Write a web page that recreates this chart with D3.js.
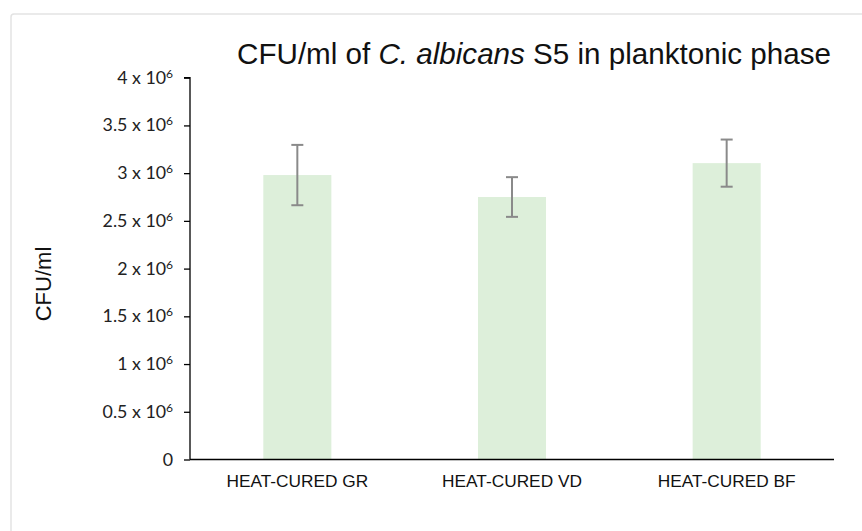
<!DOCTYPE html>
<meta charset="utf-8">
<style>
body { margin: 0; background: #fff; }
.tick-label { font: 17.8px Lato, "Open Sans", sans-serif; fill: #222; }
.cat-label { font: 17.3px "Liberation Sans", Arial, sans-serif; fill: #111; }
.title { font: 29.6px "Liberation Sans", Arial, sans-serif; fill: #111; }
.ylab { font: 22px "Liberation Sans", Arial, sans-serif; fill: #111; }
</style>
<svg width="862" height="531"></svg>
<script src="https://cdn.jsdelivr.net/npm/d3@7"></script>
<script>

var categories = ["HEAT-CURED GR", "HEAT-CURED VD", "HEAT-CURED BF"];
var means = [2.98e6, 2.75e6, 3.105e6];
var errors = [0.316e6, 0.208e6, 0.247e6];
var yTicks = [0, 0.5e6, 1e6, 1.5e6, 2e6, 2.5e6, 3e6, 3.5e6, 4e6];
var yTickText = ["0", "0.5", "1", "1.5", "2", "2.5", "3", "3.5", "4"];

var svg = d3.select("svg");

// outer frame of the chart area
svg.append("rect")
    .attr("x", 11).attr("y", 14)
    .attr("width", 900).attr("height", 600)
    .attr("rx", 3)
    .attr("fill", "#fff")
    .attr("stroke", "#e3e3e3")
    .attr("stroke-width", 1.5);

var x0 = 190, x1 = 834, yBottom = 459.5, yTop = 77.7;

var x = d3.scaleBand()
    .domain(categories)
    .range([x0, x1])
    .paddingInner(0.683)
    .paddingOuter(0.3415);

var y = d3.scaleLinear()
    .domain([0, 4e6])
    .range([yBottom, yTop]);

var g = svg.append("g");

// bars
g.selectAll("rect.bar")
    .data(means)
    .enter().append("rect")
      .attr("class", "bar")
      .attr("x", function(d, i) { return x(categories[i]); })
      .attr("width", x.bandwidth())
      .attr("y", function(d) { return y(d); })
      .attr("height", function(d) { return y(0) - y(d); })
      .attr("fill", "#ddefda");

// error bars
var eb = g.selectAll("g.err")
    .data(means)
    .enter().append("g")
      .attr("class", "err")
      .attr("stroke", "#8a8a8a")
      .attr("stroke-width", 2);

eb.append("line")
    .attr("x1", function(d, i) { return x(categories[i]) + x.bandwidth() / 2; })
    .attr("x2", function(d, i) { return x(categories[i]) + x.bandwidth() / 2; })
    .attr("y1", function(d, i) { return y(d + errors[i]); })
    .attr("y2", function(d, i) { return y(d - errors[i]); });

[1, -1].forEach(function(s) {
  eb.append("line")
      .attr("x1", function(d, i) { return x(categories[i]) + x.bandwidth() / 2 - 6; })
      .attr("x2", function(d, i) { return x(categories[i]) + x.bandwidth() / 2 + 6; })
      .attr("y1", function(d, i) { return y(d + s * errors[i]); })
      .attr("y2", function(d, i) { return y(d + s * errors[i]); });
});

// y axis
var yAxis = d3.axisLeft(y)
    .tickValues(yTicks)
    .tickSize(6)
    .tickFormat("");

var ya = svg.append("g")
    .attr("transform", "translate(" + x0 + ",0)")
    .call(yAxis);
ya.select(".domain").attr("stroke", "#000").attr("stroke-width", 1.3)
    .attr("d", "M-6," + yTop + "H0V" + yBottom);
ya.selectAll(".tick line").attr("stroke", "#000").attr("stroke-width", 1.3);

var lab = svg.selectAll("text.tick-label")
    .data(yTicks)
    .enter().append("text")
      .attr("class", "tick-label")
      .attr("text-anchor", "end")
      .attr("x", x0 - 17)
      .attr("y", function(d) { return y(d) + 6; });

lab.each(function(d, i) {
  var t = d3.select(this);
  if (d === 0) { t.text("0"); return; }
  t.append("tspan").text(yTickText[i] + " x 10");
  t.append("tspan").attr("dy", -6).style("font-size", "12px").text("6");
});

// x axis
svg.append("line")
    .attr("x1", x0).attr("x2", x1)
    .attr("y1", yBottom).attr("y2", yBottom)
    .attr("stroke", "#000")
    .attr("stroke-width", 1.5);

svg.selectAll("text.cat-label")
    .data(categories)
    .enter().append("text")
      .attr("class", "cat-label")
      .attr("text-anchor", "middle")
      .attr("x", function(d) { return x(d) + x.bandwidth() / 2; })
      .attr("y", 487)
      .text(function(d) { return d; });

// title
var title = svg.append("text")
    .attr("class", "title")
    .attr("text-anchor", "middle")
    .attr("x", 534)
    .attr("y", 64);
title.append("tspan").text("CFU/ml of ");
title.append("tspan").style("font-style", "italic").text("C. albicans");
title.append("tspan").text(" S5 in planktonic phase");

// y label
svg.append("text")
    .attr("class", "ylab")
    .attr("text-anchor", "middle")
    .attr("transform", "translate(51,284) rotate(-90)")
    .text("CFU/ml");

</script>
